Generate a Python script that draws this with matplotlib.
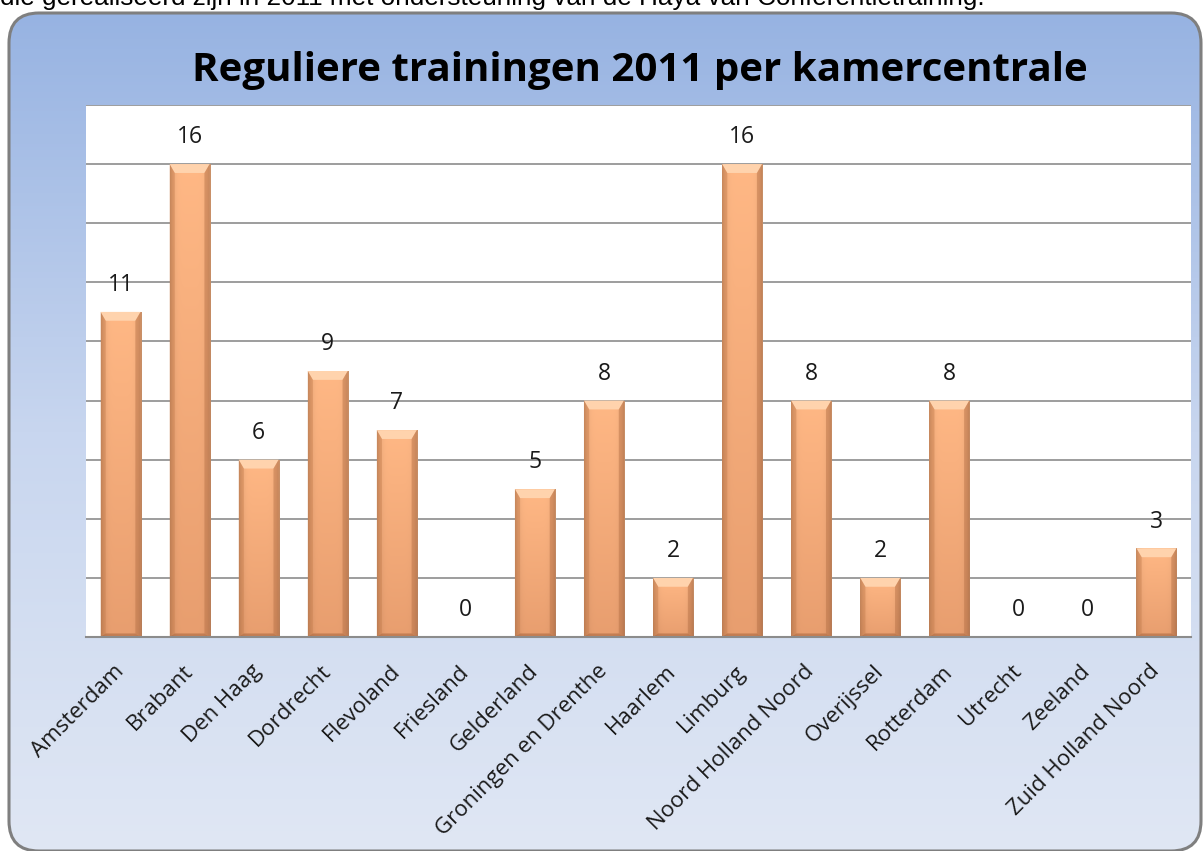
import numpy as np
import matplotlib
matplotlib.use("Agg")
import matplotlib.pyplot as plt
from matplotlib.patches import FancyBboxPatch
from matplotlib.colors import LinearSegmentedColormap

categories = ["Amsterdam", "Brabant", "Den Haag", "Dordrecht", "Flevoland", "Friesland",
              "Gelderland", "Groningen en Drenthe", "Haarlem", "Limburg",
              "Noord Holland Noord", "Overijssel", "Rotterdam", "Utrecht", "Zeeland",
              "Zuid Holland Noord"]
values = [11, 16, 6, 9, 7, 0, 5, 8, 2, 16, 8, 2, 8, 0, 0, 3]
title = "Reguliere trainingen 2011 per kamercentrale"
top_text = "die gerealiseerd zijn in 2011 met ondersteuning van de Haya van Conferentietraining."

W, H = 1203, 851
fig = plt.figure(figsize=(W / 100, H / 100), dpi=100)
fig.patch.set_facecolor("white")

# background axes in pixel coords
bg = fig.add_axes([0, 0, 1, 1])
bg.set_xlim(0, W)
bg.set_ylim(H, 0)
bg.axis("off")
box = FancyBboxPatch((9, 13), 1192, 838, boxstyle="round,pad=0,rounding_size=30",
                     facecolor="none", edgecolor="#7f7f7f", linewidth=2.2, zorder=3)
bg.add_patch(box)
grad = np.linspace(0, 1, 256).reshape(-1, 1)
cmap_bg = LinearSegmentedColormap.from_list("bg", ["#97b3e2", "#c8d6ef", "#e0e7f4"])
im = bg.imshow(grad, cmap=cmap_bg, extent=(0, W, H, 13), aspect="auto", zorder=1)
im.set_clip_path(box)
bg.text(0, 5, top_text, fontsize=18.8, family="Liberation Sans", ha="left",
        va="baseline", color="black", zorder=4)
bg.text(640, 70, title, fontsize=29, family="Open Sans", fontweight="bold",
        ha="center", va="center", color="black", zorder=4)

# main axes
L, R, T, B = 86, 1191, 105, 637
ax = fig.add_axes([L / W, 1 - B / H, (R - L) / W, (B - T) / H])
ax.set_facecolor("white")
n = len(categories)
x = np.arange(n)
ax.set_xlim(-0.5, n - 0.5)
ax.set_ylim(0, 18)
ax.set_yticks(np.arange(0, 19, 2))
ax.yaxis.grid(True, color="#8c8c8c", linewidth=1.2)
ax.set_axisbelow(True)
ax.tick_params(left=False, labelleft=False, bottom=False)
for s in ["top", "right", "left"]:
    ax.spines[s].set_visible(False)
ax.spines["bottom"].set_color("#8c8c8c")
ax.spines["bottom"].set_linewidth(1.5)

bw = 0.58
bars = ax.bar(x, values, width=bw, color="#f0a070", edgecolor="#9a5a38", linewidth=0.6, zorder=2)

# bevel gradient for each bar
xs = np.linspace(-1, 1, 60)
edge = np.abs(xs) ** 6
light = np.array([1.00, 0.72, 0.52])
dark = np.array([0.82, 0.52, 0.35])
for b, v in zip(bars, values):
    if v <= 0:
        continue
    bx, by, bwid, bh = b.get_x(), b.get_y(), b.get_width(), b.get_height()
    ny = 120
    ys = np.linspace(0, 1, ny)  # 0 bottom -> 1 top
    img = np.zeros((ny, len(xs), 3))
    for i, yy in enumerate(ys):
        t = 0.5 + 0.5 * yy
        base = dark + (light - dark) * t
        row = base[None, :] * (1 - 0.22 * edge[:, None])
        img[ny - 1 - i] = row
    bi = ax.imshow(np.clip(img, 0, 1), extent=(bx, bx + bwid, by, by + bh), aspect="auto",
                   zorder=2.1, interpolation="bilinear")
    bi.set_clip_path(b)
    cap = 0.3
    ax.fill([bx, bx + bwid, bx + bwid * 0.87, bx + bwid * 0.13],
            [bh, bh, bh - cap, bh - cap], color="#ffd3ad", zorder=2.2, linewidth=0)
    ax.fill([bx, bx + bwid * 0.13, bx + bwid * 0.13, bx],
            [bh, bh - cap, 0.12, 0], color="#c9804f", alpha=0.45, zorder=2.2, linewidth=0)
    ax.fill([bx + bwid, bx + bwid * 0.87, bx + bwid * 0.87, bx + bwid],
            [bh, bh - cap, 0.12, 0], color="#b56f44", alpha=0.45, zorder=2.2, linewidth=0)
    ax.fill([bx, bx + bwid, bx + bwid * 0.87, bx + bwid * 0.13],
            [0, 0, 0.12, 0.12], color="#a8643c", alpha=0.55, zorder=2.2, linewidth=0)
ax.set_ylim(0, 18)

for xi, v in zip(x, values):
    ax.text(xi, v + 0.5, str(v), ha="center", va="bottom", fontsize=16.5,
            family="Open Sans", color="#1a1a1a", zorder=3)

ax.set_xticks(x)
ax.set_xticklabels(categories, rotation=45, ha="right", va="center",
                   rotation_mode="anchor", fontsize=16, family="Open Sans", color="#1a1a1a")
ax.tick_params(axis="x", pad=19)

fig.savefig("out.png", dpi=100, facecolor="white")
